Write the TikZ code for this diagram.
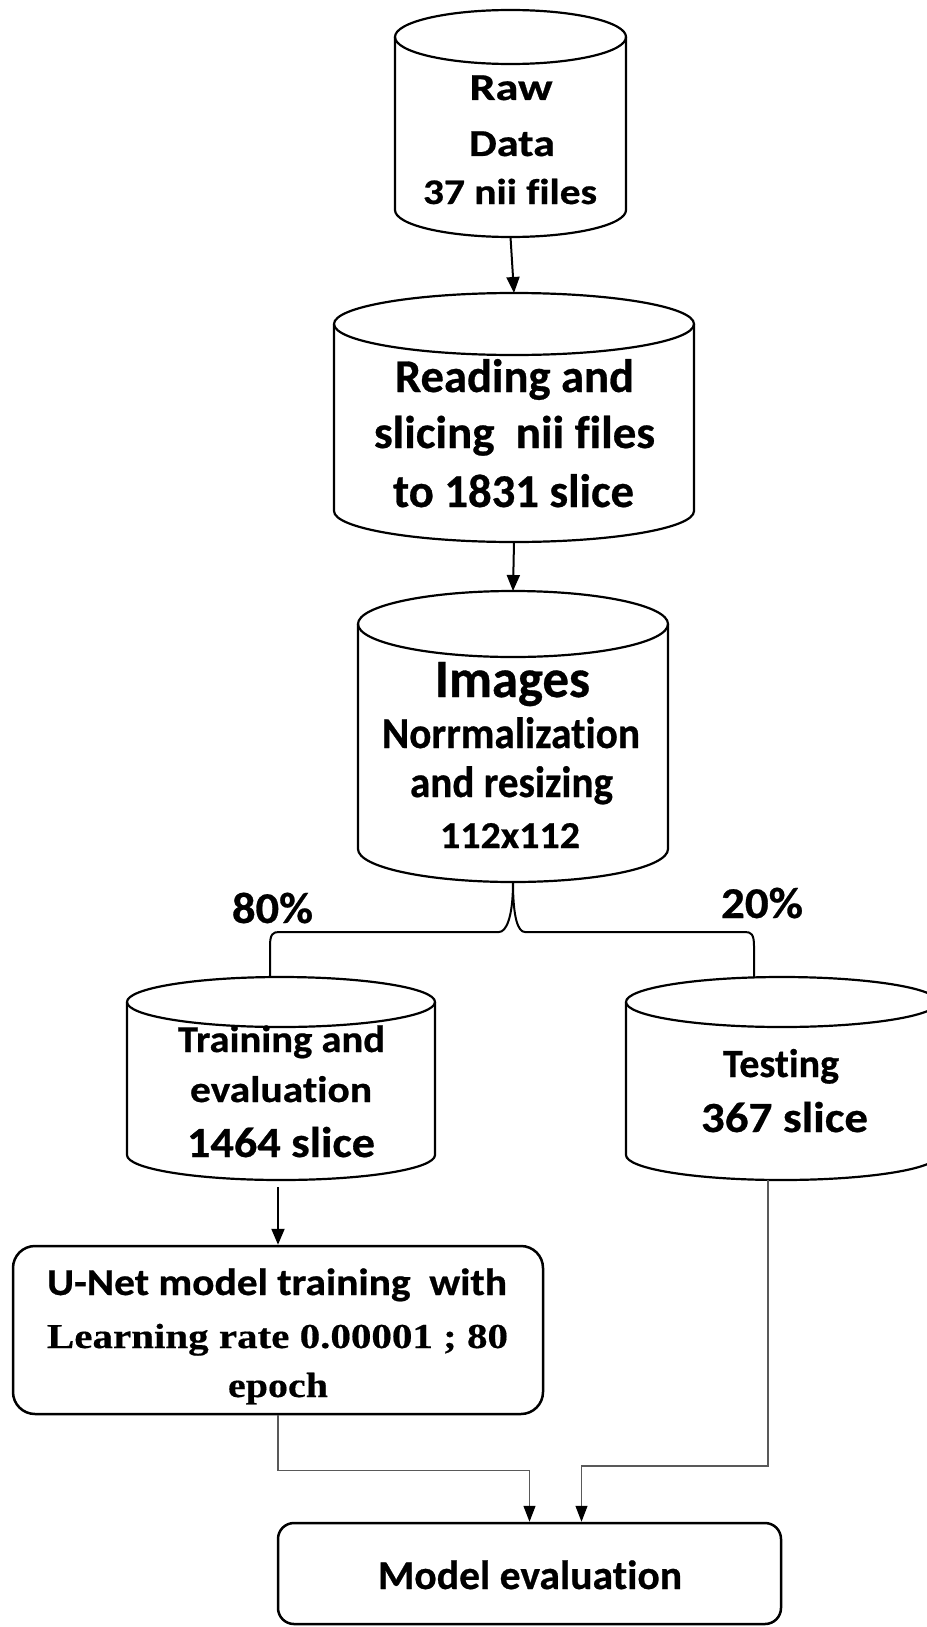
\documentclass[tikz,border=0pt]{standalone}
\usepackage{fontspec}
\setmainfont{Carlito}[Ligatures={NoCommon}, RawFeature={-liga;-clig;-dlig;-calt}, BoldFeatures={FakeBold=0.6}]
\newfontfamily\tnr{Liberation Serif}[BoldFeatures={FakeBold=0.4}]
\usepackage{graphicx}
\usetikzlibrary{arrows.meta,calc}

% one text line: forced width (px), font size (px), text
\newcommand\tl[3]{\resizebox{#1pt}{\height}{\fontsize{#2pt}{#2pt}\selectfont\bfseries #3}}

% cylinder: name, left, top, right, bottom, ry   (all in px, y downwards)
\newcommand\drawcyl[6]{%
  \pgfmathsetmacro\cylcx{(#2+#4)/2}%
  \pgfmathsetmacro\cylrx{(#4-#2)/2}%
  \pgfmathsetmacro\cylcy{-(#3+#5)/2}%
  \node[inner sep=0pt, outer sep=0pt, minimum width={(#4-#2)*1pt}, minimum height={(#5-#3)*1pt}] (#1) at (\cylcx,\cylcy) {};
  \draw[cylline] (\cylcx,{-#3-#6}) ellipse [x radius=\cylrx, y radius=#6];
  \draw[cylline] (#2,{-#3-#6}) -- (#2,{-#5+#6}) arc[start angle=180, end angle=360, x radius=\cylrx, y radius=#6] -- (#4,{-#3-#6});
}

\tikzset{
  cylline/.style={draw=black, line width=2.2pt},
  txt/.style={anchor=base, inner sep=0pt, outer sep=0pt},
  arr/.style={line width=2pt, -{Triangle[length=16pt,width=13pt]}},
  conn/.style={line width=1.3pt, draw=black!65, -{Triangle[length=16pt,width=12pt,color=black]}},
  boxst/.style={draw, line width=2.5pt, inner sep=0pt},
  bracel/.style={line width=2pt},
}

\begin{document}
\begin{tikzpicture}[x=1pt,y=1pt]
\fill[white] (0,0) rectangle (926,-1627);
\useasboundingbox (0,0) rectangle (926,-1627);

% cylinders
\drawcyl{raw}{395}{10}{626}{237}{27}
\drawcyl{slice}{334}{293}{694}{542}{31}
\drawcyl{images}{358}{591}{668}{882}{33}
\drawcyl{train}{127}{977}{435}{1180}{25}
\drawcyl{test}{626}{977}{938}{1180}{25}

% rounded boxes
\node[boxst, rounded corners=22pt, minimum width=530pt, minimum height=168pt] (unet) at (278,-1330) {};
\node[boxst, rounded corners=16pt, minimum width=503pt, minimum height=101pt] (eval) at (529.5,-1573.5) {};

% texts
\node[txt] (rawa) at (511,-100) {\tl{83}{38}{Raw}};
\node[txt] (rawb) at (512,-156) {\tl{86}{38}{Data}};
\node[txt] (rawc) at (510,-204) {\tl{174}{36}{37 nii files}};

\node[txt] (slia) at (514.5,-392) {\tl{239}{47}{Reading and}};
\node[txt] (slib) at (514.5,-448) {\tl{281}{46}{slicing~ nii files}};
\node[txt] (slic) at (513.5,-507) {\tl{241}{47}{to 1831 slice}};

\node[txt] (ima) at (512.5,-697) {\tl{155}{54}{Images}};
\node[txt] (imb) at (511,-748) {\tl{258}{44}{Norrmalization}};
\node[txt] (imc) at (511.5,-797) {\tl{203}{44}{and resizing}};
\node[txt] (imd) at (510,-848) {\tl{140}{38}{112x112}};

\node[txt] (p80) at (272.5,-923) {\tl{81}{44}{80\%}};
\node[txt] (p20) at (762,-918) {\tl{82}{44}{20\%}};

\node[txt] (tra) at (281.5,-1052) {\tl{207}{38}{Training and}};
\node[txt] (trb) at (281,-1102) {\tl{182}{37}{evaluation}};
\node[txt] (trc) at (281,-1157) {\tl{188}{43}{1464 slice}};

\node[txt] (tea) at (781,-1077) {\tl{116}{40}{Testing}};
\node[txt] (teb) at (784.5,-1132) {\tl{167}{43}{367 slice}};

\node[txt] (una) at (277,-1295) {\tl{460}{38}{U-Net model training~ with}};
\node[txt] (unb) at (277.5,-1348) {\tl{461}{35}{\tnr Learning rate 0.00001 ; 80}};
\node[txt] (unc) at (278,-1397) {\tl{100}{35}{\tnr epoch}};

\node[txt] (eva) at (530,-1589) {\tl{304}{41}{Model evaluation}};

% arrows
\draw[arr] (raw.south) -- (slice.north);
\draw[arr] (slice.south) -- (images.north);
\draw[arr, shorten <=7pt] (unet.north |- train.south) -- (unet.north);

% brace
\coordinate (legL) at (270,-977);
\coordinate (legR) at (754,-977);
\draw[bracel] (images.south) .. controls +(0,-36) and +(7,0) .. (499,-932) -- (279,-932)
  .. controls +(-6,0) and +(0,12) .. (270,-946) -- (legL);
\draw[bracel] (images.south) .. controls +(0,-36) and +(-7,0) .. (525,-932) -- (745,-932)
  .. controls +(6,0) and +(0,12) .. (754,-946) -- (legR);

% bottom connectors
\coordinate (tsout) at ($(test.south)+(-14,0)$);
\draw[conn] (unet.south) -- ++(0,-55) -| (eval.north);
\draw[conn] (tsout) -- ++(0,-286) -| ([xshift=52pt]eval.north);
\end{tikzpicture}
\end{document}
